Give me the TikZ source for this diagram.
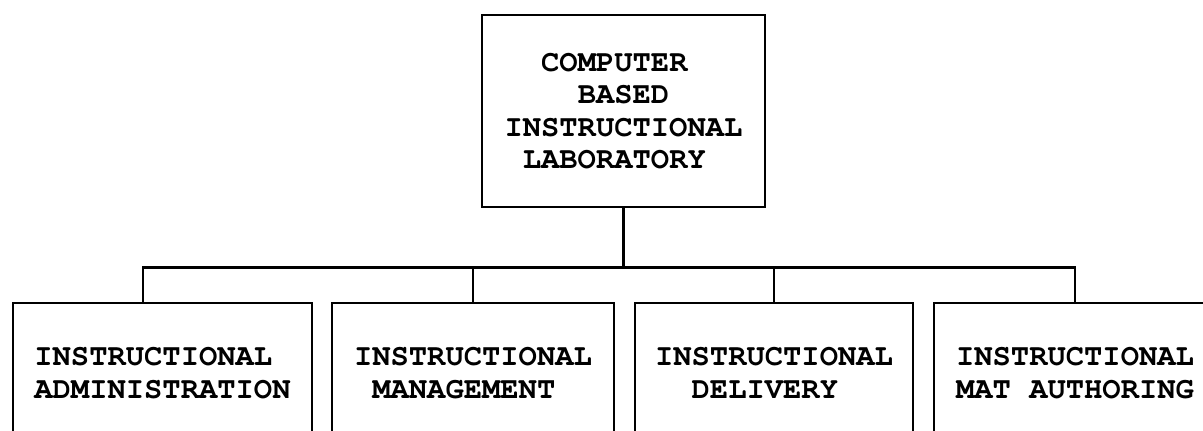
\documentclass[tikz,border=0pt]{standalone}
\usepackage[T1]{fontenc}
\renewcommand{\ttdefault}{pcr}

\begin{document}
\begin{tikzpicture}[font=\ttfamily\bfseries\fontsize{15.25pt}{16.25pt}\selectfont, line width=1.4pt,
	edge from parent path={(\tikzparentnode.south) -- ++(0,-29.5pt) -| (\tikzchildnode.north)}]
	\tikzstyle{every node}=[draw, align=left, inner sep=0pt]
	\tikzstyle{level 1}=[sibling distance=150.5pt, level distance=131pt]
	\tikzstyle{childbox}=[minimum width=141pt, minimum height=70pt]
	\clip (-311.75pt,55.5pt) rectangle (289.75pt,-160pt);
	\node[minimum width=141.5pt, minimum height=96pt] (lab) {~~COMPUTER\\~~~~BASED\\INSTRUCTIONAL\\~LABORATORY}
		child[edge from parent path={(\tikzparentnode.south) -- ++(0,-29.5pt) -| ([xshift=-9.75pt]\tikzchildnode.north)}]
			{node[childbox, minimum width=149.5pt, xshift=-4.75pt] (admin) {INSTRUCTIONAL\\ADMINISTRATION}}
		child	{node[childbox] (mgmt) {INSTRUCTIONAL\\~MANAGEMENT}}
		child	{node[childbox, minimum width=139pt] (delivery) {INSTRUCTIONAL\\~~DELIVERY}}
		child	{node[childbox] (authoring) {INSTRUCTIONAL\\MAT AUTHORING}};
\end{tikzpicture}
\end{document}
